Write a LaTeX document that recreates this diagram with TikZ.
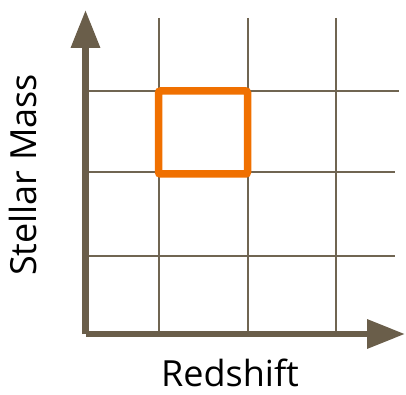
\documentclass[tikz,border=0pt]{standalone}
\usepackage{fontspec}
\setmainfont{Open Sans}
\usetikzlibrary{arrows.meta}
\definecolor{axiscol}{RGB}{106,94,74}
\definecolor{gridcol}{RGB}{112,101,82}
\definecolor{boxcol}{RGB}{240,112,0}
\tikzset{
  axisline/.style={draw=axiscol, line width=6.5pt, -{Triangle[width=28pt,length=38pt]}},
  gridline/.style={draw=gridcol, line width=2pt},
  selbox/.style={draw=boxcol, line width=7.5pt, rounded corners=2pt},
  lab/.style={font=\fontsize{36}{42}\selectfont, text=black, inner sep=0pt, text depth=0pt}
}
\begin{document}
\begin{tikzpicture}[x=1pt,y=-1pt]
\useasboundingbox (0,0) rectangle (406,395);
% grid coordinates
\coordinate (v1t) at (159,18); \coordinate (v1b) at (159,333);
\coordinate (v2t) at (248,18); \coordinate (v2b) at (248,333);
\coordinate (v3t) at (336,18); \coordinate (v3b) at (336,333);
\coordinate (h1l) at (86,91);  \coordinate (h1r) at (399,91);
\coordinate (h2l) at (86,172); \coordinate (h2r) at (395,172);
\coordinate (h3l) at (86,256); \coordinate (h3r) at (395,256);
\draw[gridline] (v1t) -- (v1b);
\draw[gridline] (v2t) -- (v2b);
\draw[gridline] (v3t) -- (v3b);
\draw[gridline] (h1l) -- (h1r);
\draw[gridline] (h2l) -- (h2r);
\draw[gridline] (h3l) -- (h3r);
% axes
\coordinate (ybot) at (85.5,334);
\coordinate (ytop) at (85.5,10);
\coordinate (xleft) at (85.5,334);
\coordinate (xright) at (405,334);
\draw[axisline] (ybot) -- (ytop);
\draw[axisline] (xleft) -- (xright);
% highlighted cell
\coordinate (b1) at (158.5,91);
\coordinate (b2) at (247.5,174);
\draw[selbox] (b1) rectangle (b2);
% labels
\node[lab, anchor=base] (xlab) at (230,386.5) {Redshift};
\node[lab, anchor=base, rotate=90] (ylab) at (36,175) {Stellar Mass};
\end{tikzpicture}
\end{document}
